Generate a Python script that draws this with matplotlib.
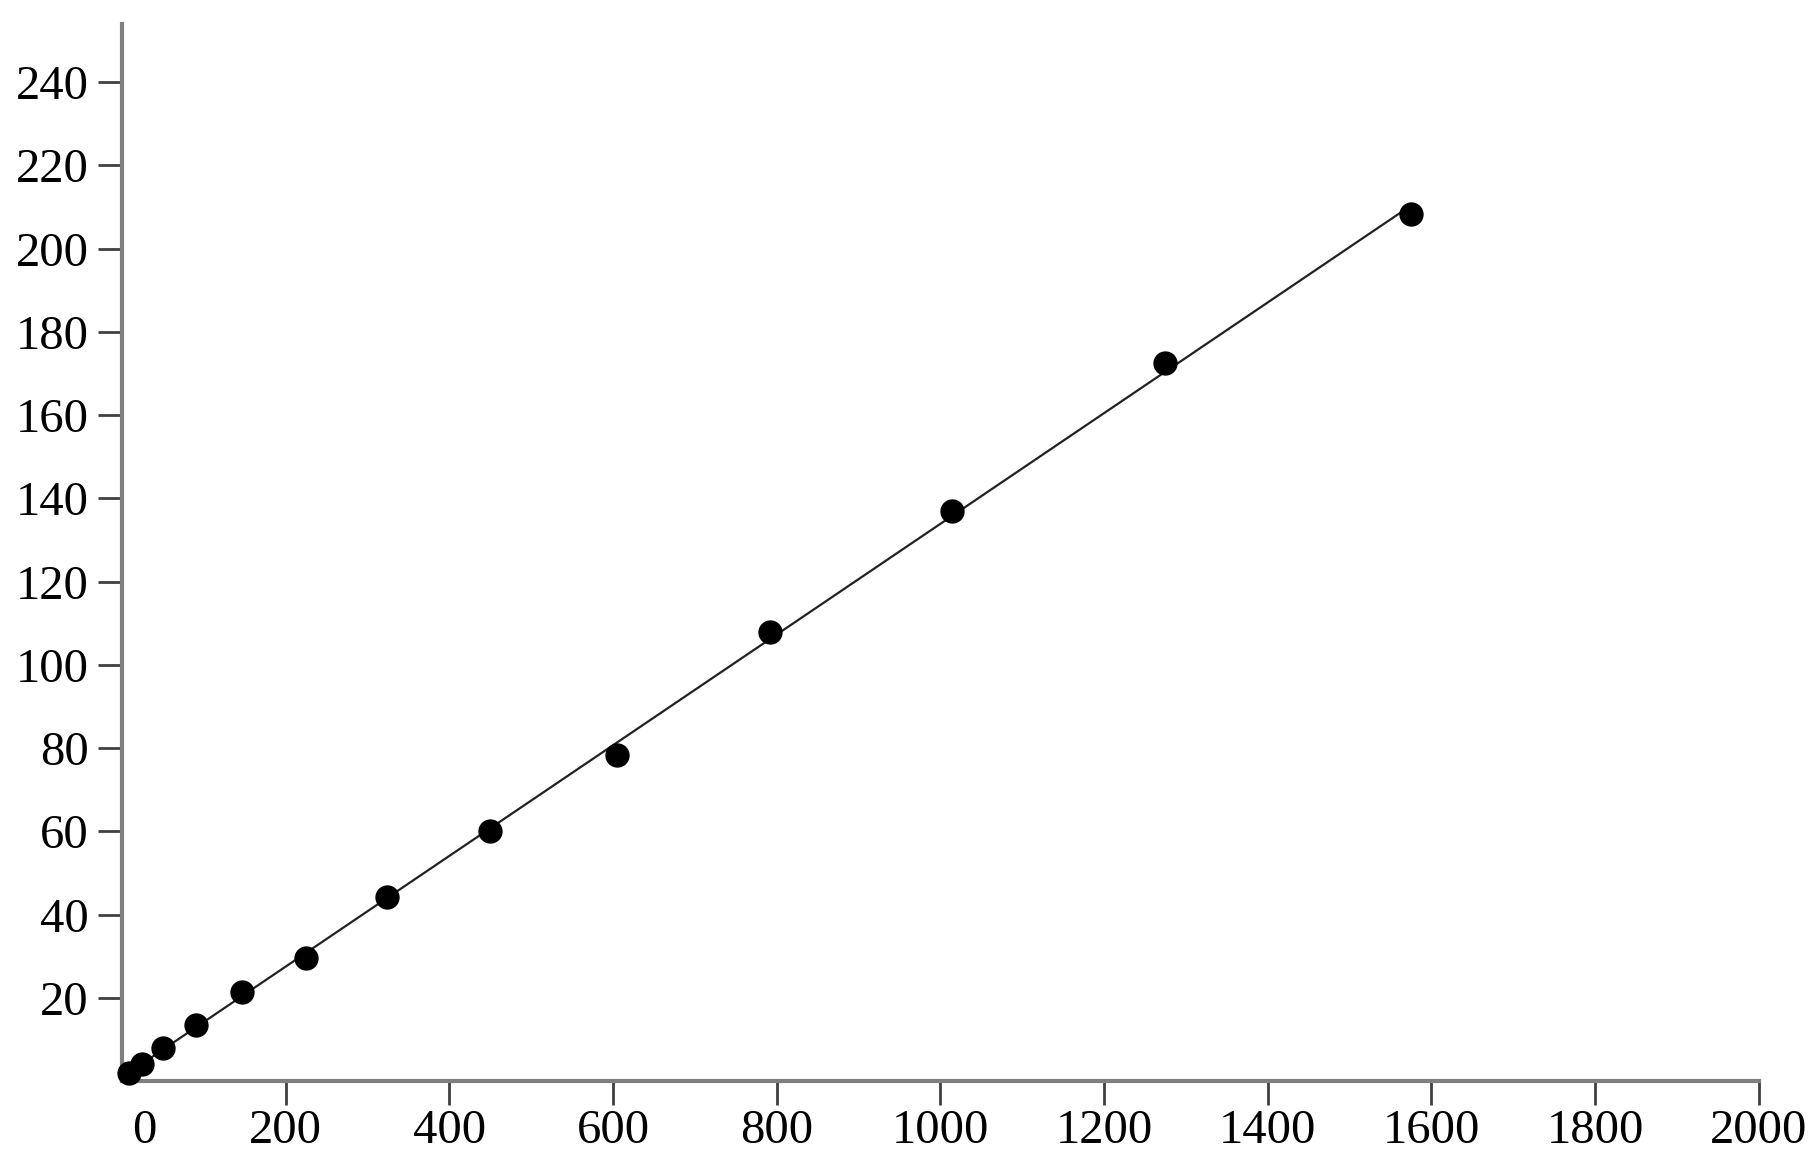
import matplotlib
matplotlib.use('Agg')
import matplotlib.pyplot as plt
import matplotlib.transforms as mtransforms
import numpy as np

# values
x_vals = [9, 24, 50.5, 90.5, 147, 224.5, 323.6, 450, 604.7, 792.2, 1014.3, 1275, 1575]
y_vals = [1.85, 4.0, 8.0, 13.4, 21.4, 29.5, 44.25, 60.0, 78.4, 108.0, 136.9, 172.6, 208.3]
x_ticks = list(range(0, 2001, 200))
y_ticks = list(range(20, 241, 20))

plt.rcParams['font.family'] = ['Liberation Serif', 'DejaVu Serif']

fig = plt.figure(figsize=(18.2, 11.59), dpi=100)
ax = fig.add_axes([0.067, 0.0673, 0.8993, 0.912])

# linear fit through the points
slope, intercept = np.polyfit(x_vals, y_vals, 1)
fit_x = np.array([min(x_vals), max(x_vals)])
ax.plot(fit_x, slope * fit_x + intercept, color='#222222', linewidth=1.6, zorder=2)
ax.plot(x_vals, y_vals, 'o', color='black', markersize=16.5, zorder=3, clip_on=False)

ax.set_xlim(0, 2000)
ax.set_ylim(0, 254)
ax.set_xticks(x_ticks)
ax.set_yticks(y_ticks)

for side in ['top', 'right']:
    ax.spines[side].set_visible(False)
for side in ['left', 'bottom']:
    ax.spines[side].set_color('#808080')
    ax.spines[side].set_linewidth(3)

ax.tick_params(axis='both', colors='#404040', width=2, length=17, labelsize=35,
               labelcolor='black')
ax.tick_params(axis='y', pad=7)
ax.tick_params(axis='x', pad=3)

# no tick mark at x=0, and its label sits a bit right of the spine
ax.xaxis.get_major_ticks()[0].tick1line.set_visible(False)
lbl0 = ax.get_xticklabels()[0]
lbl0.set_transform(lbl0.get_transform() + mtransforms.ScaledTranslation(0.22, 0, fig.dpi_scale_trans))

fig.savefig('out.png', dpi=100)
